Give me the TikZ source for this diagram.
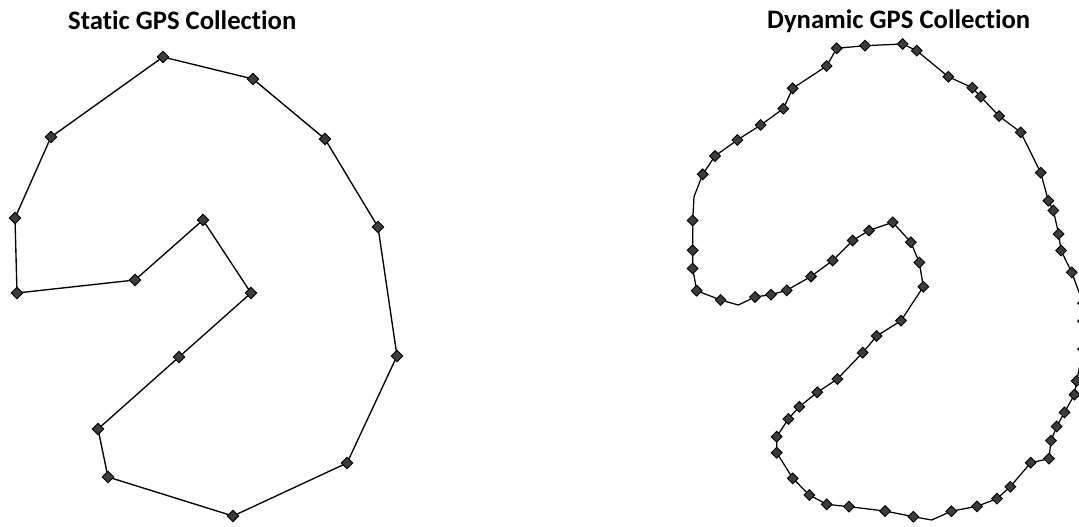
\documentclass[tikz,border=0pt]{standalone}
\usepackage{fontspec}
\setmainfont{Carlito}[Ligatures=NoCommon]
\definecolor{markfill}{HTML}{3C3C3C}
\tikzset{
  track/.style={draw=black, line width=1.35pt, line join=round},
  gpsmark/.style={draw=black, fill=markfill, line width=0.9pt, minimum size=7.6pt, inner sep=0pt, rotate=45},
  title/.style={font=\bfseries\fontsize{26.7}{32}\selectfont, anchor=base west, inner sep=0pt}
}
\begin{document}
\begin{tikzpicture}[x=1pt, y=-1pt]
\useasboundingbox (0,0) rectangle (1079,527);
\clip (0,0) rectangle (1079,527);
\node[title] (t1) at (68,29.3) {Static GPS Collection};
\node[title] (t2) at (767,28.8) {Dynamic GPS Collection};
% static points
\foreach \x/\y [count=\i] in {163/57, 253/79, 325/139, 378/227, 397/356, 347/463, 233/516, 108/477, 98/429, 179/357, 251/293, 203/220, 135/280, 17/293, 15/218, 51/137}
  \coordinate (s\i) at (\x,\y);
\draw[track] (s1) \foreach \i in {2,...,16} { -- (s\i) } -- cycle;
\foreach \i in {1,...,16} \node[gpsmark, minimum size=8pt] (sm\i) at (s\i) {};
% dynamic points (x/y/marker)
\foreach \x/\y/\m [count=\i] in {
836.7/48.3/1, 865/45.7/1, 902.7/44/1, 916.7/50.7/1, 948.3/76.7/1, 972.3/87.7/1, 980.7/96.7/1, 999/116/1, 1020.7/132.3/1, 1040.7/172.7/1,
1048.3/200.7/1, 1053.3/210.5/1, 1058.7/234/1, 1061/250.5/1, 1071.7/272.3/1, 1083/303/1, 1083/321/1, 1083/349/1, 1076.7/381/1, 1074.5/394.5/1,
1064.5/412.3/1, 1056.7/426.5/1, 1051/440.7/1, 1049/458.7/1, 1030.7/462.7/1, 1010.3/486.7/1, 997/498.7/1, 977/506.3/1, 951.3/511.2/1, 931.7/520/0,
913.3/516.7/1, 885/511/1, 849/506.7/1, 826.7/504.3/1, 809.3/495/1, 792.7/478.3/1, 776.7/452.7/1, 776.7/436.7/1, 788.3/419/1, 799.3/406.7/1,
817.3/392.3/1, 837.3/379/1, 862.7/352.7/1, 876.7/336/1, 901/320.7/1, 923.3/286.7/1, 919.3/262.5/1, 910.8/242.2/1, 892.7/222.3/1, 869/230.5/1,
852.7/240.5/1, 832.7/260.5/1, 811/276.5/1, 786.7/290.3/1, 771/294.7/1, 755/297/1, 738.3/305/0, 720.7/300/1, 696.7/290.7/1, 692.7/268.5/1,
692.7/250.3/1, 692.7/220.5/1, 694/196.7/0, 702.7/174.3/1, 715/156/1, 737.3/140/1, 760.7/125/1, 783.3/108.7/1, 792.7/88.3/1, 826.7/66/1}
{
  \coordinate (d\i) at (\x,\y);
  \ifnum\m=1 \expandafter\xdef\csname dmk\i\endcsname{1}\fi
}
\draw[track, line width=1.25pt] (d1) \foreach \i in {2,...,70} { -- (d\i) } -- cycle;
\foreach \i in {1,...,70} {
  \ifcsname dmk\i\endcsname \node[gpsmark] (dm\i) at (d\i) {}; \fi
}
\end{tikzpicture}
\end{document}
